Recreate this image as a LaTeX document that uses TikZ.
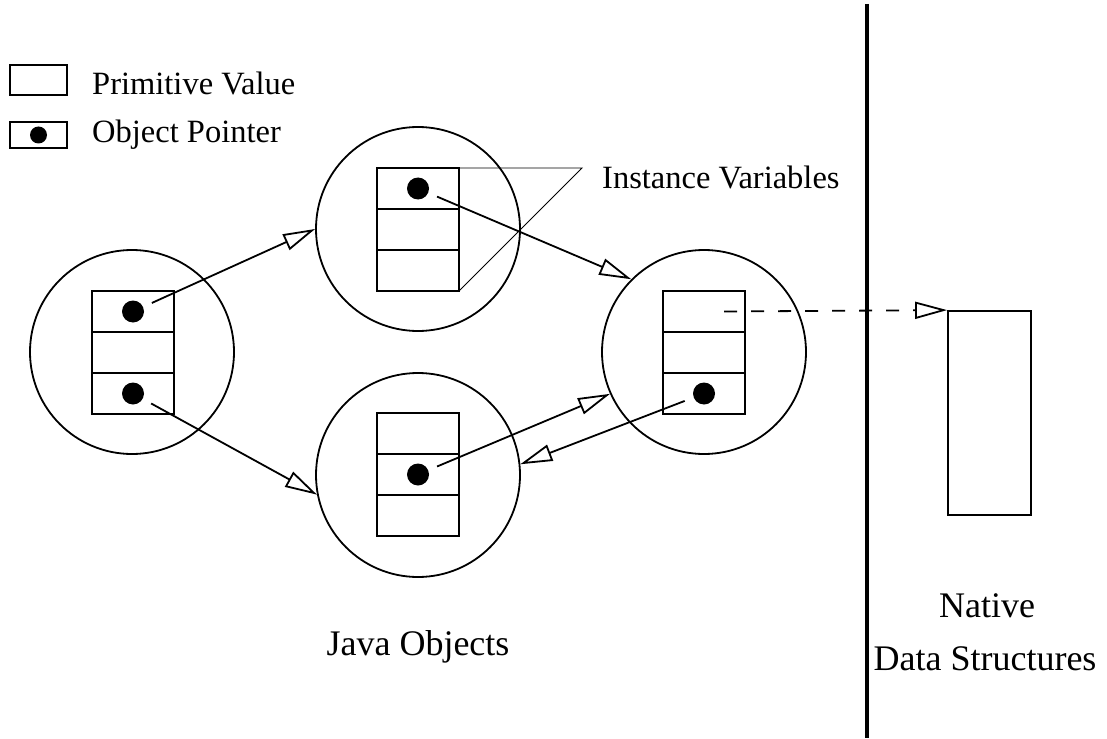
\documentclass[tikz,border=0pt]{standalone}
\usepackage{fontspec}
\setmainfont{Liberation Serif}
\usetikzlibrary{arrows.meta}

\begin{document}
\begin{tikzpicture}[x=1pt,y=-1pt,
  obj/.style={draw, circle, line width=1.8pt, minimum size=204pt, inner sep=0pt},
  cell/.style={draw, rectangle, line width=1.8pt, minimum width=82pt, minimum height=41pt, inner sep=0pt, outer sep=0pt},
  dot/.style={circle, fill=black, minimum size=22pt, inner sep=0pt},
  tip/.style={-{Triangle[open,length=32pt,width=17pt]}},
  ptr/.style={tip, line width=1.8pt, shorten <=9.5pt},
  small/.style={font=\fontsize{32.5}{39}\selectfont, inner sep=0pt},
  big/.style={font=\fontsize{36}{43}\selectfont, inner sep=0pt}]
\useasboundingbox (0,0) rectangle (1107,738);

% legend
\node[draw, line width=1.8pt, minimum width=57pt, minimum height=30pt, inner sep=0pt] (legp) at (38.5,80) {};
\node[draw, line width=1.8pt, minimum width=57pt, minimum height=26pt, inner sep=0pt] (lego) at (38.5,135) {};
\node[circle, fill=black, minimum size=17pt, inner sep=0pt] (legdot) at (legp.center |- lego.center) {};
\node[small, anchor=base west] (legptxt) at (92,95) {Primitive Value};
\node[small, anchor=base west] (legotxt) at (92,143) {Object Pointer};

% Java objects
\node[obj] (L) at (132,352) {};
\node[obj] (T) at (418,229) {};
\node[obj] (B) at (418,475) {};
\node[obj] (R) at (704,352) {};

% instance variable slots
\node[cell] (L1) at (133,311.5) {};
\node[cell] (L2) at (133,352.5) {};
\node[cell] (L3) at (133,393.5) {};
\node[cell] (T1) at (418,188.5) {};
\node[cell] (T2) at (418,229.5) {};
\node[cell] (T3) at (418,270.5) {};
\node[cell] (B1) at (418,433.5) {};
\node[cell] (B2) at (418,474.5) {};
\node[cell] (B3) at (418,515.5) {};
\node[cell] (R1) at (704,311.5) {};
\node[cell] (R2) at (704,352.5) {};
\node[cell] (R3) at (704,393.5) {};

% object pointers
\node[dot] (dL1) at (L1.center) {};
\node[dot] (dL3) at (L3.center) {};
\node[dot] (dT1) at (T1.center) {};
\node[dot] (dB2) at (B2.center) {};
\node[dot] (dR3) at (R3.center) {};

\draw[ptr] (dL1) -- (T.180);
\draw[ptr] (dL3) -- (B.191);
\draw[ptr] (dT1) -- (R.135);
\draw[ptr] (dB2) -- (R.204);
\draw[ptr] (dR3) -- (B.6);

% instance variables callout
\coordinate (ivtip) at (582,168);
\draw[line width=0.9pt] (T1.north east) -- (ivtip) -- (T3.south east);
\node[small, anchor=base west] (ivtxt) at (602,188) {Instance Variables};

% boundary between Java and native side
\coordinate (sepTop) at (867,4);
\coordinate (sepBot) at (867,738);
\draw[line width=4pt] (sepTop) -- (sepBot);

% native data structure
\node[draw, line width=1.8pt, minimum width=83pt, minimum height=204pt, inner sep=0pt] (N) at (989.5,413) {};
\draw[tip, line width=1.8pt, dash pattern=on 13pt off 14pt]
  ([xshift=20pt]R1.center) -- (N.north west);

% labels
\node[big, anchor=base] (javalbl) at (418,655) {Java Objects};
\node[big, anchor=base] (nativelbl) at (987,617) {Native};
\node[big, anchor=base] (datalbl) at (985,670) {Data Structures};
\end{tikzpicture}
\end{document}
